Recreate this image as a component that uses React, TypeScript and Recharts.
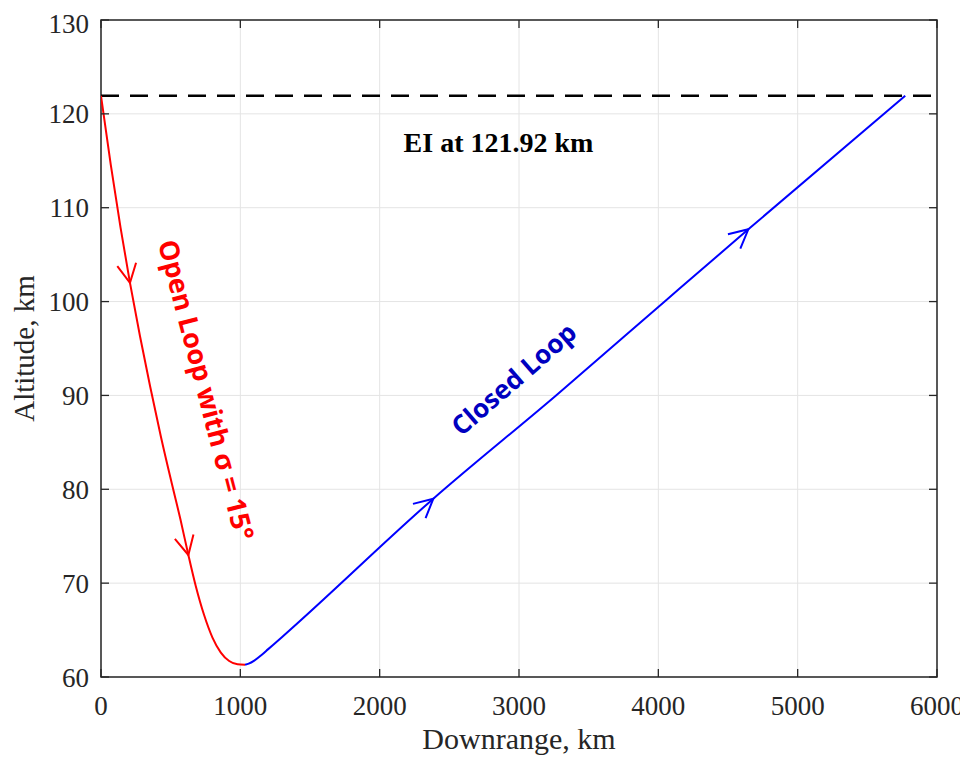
import React from 'react';
import {
  ComposedChart,
  Line,
  XAxis,
  YAxis,
  CartesianGrid,
  ReferenceLine,
  ReferenceDot,
  ReferenceArea,
} from 'recharts';

// ---------- data ----------
const xTicks = [0, 1000, 2000, 3000, 4000, 5000, 6000];
const yTicks = [60, 70, 80, 90, 100, 110, 120, 130];

// Open loop trajectory (downrange km, altitude km)
const openLoopX = [0, 70, 140, 208, 280, 352, 430, 510, 570, 627, 680, 740, 800, 860, 920, 980, 1034];
const openLoopY = [121.92, 114.6, 107.9, 102.0, 96.3, 91.0, 85.6, 80.5, 76.8, 73.0, 69.7, 66.6, 64.2, 62.6, 61.7, 61.35, 61.3];

// Closed loop trajectory
const closedLoopX = [1034, 1060, 1100, 1150, 1200, 1300, 2385, 3266, 4060, 4646, 5772];
const closedLoopY = [61.3, 61.42, 61.75, 62.32, 62.97, 64.27, 79.0, 90.0, 100.2, 107.7, 121.92];

// Direction arrows placed along each trajectory
const openArrowX = [208, 627];
const openArrowY = [102.0, 73.0];
const closedArrowX = [2385, 4646];
const closedArrowY = [79.0, 107.7];

const eiAltitude = 121.92;
const eiLabel = 'EI at 121.92 km';
const openLabel = 'Open Loop with σ = 15°';
const closedLabel = 'Closed Loop';

// ---------- layout ----------
const W = 960;
const H = 751;
const MARGIN = { top: 12, right: 31, left: 0, bottom: 0 };
const Y_AXIS_W = 93;
const X_AXIS_H = 82;
const X_DOMAIN: [number, number] = [0, 6000];
const Y_DOMAIN: [number, number] = [60, 130];
const PLOT_W = W - MARGIN.left - MARGIN.right - Y_AXIS_W;
const PLOT_H = H - MARGIN.top - MARGIN.bottom - X_AXIS_H;
const PX_PER_X = PLOT_W / (X_DOMAIN[1] - X_DOMAIN[0]);
const PX_PER_Y = PLOT_H / (Y_DOMAIN[1] - Y_DOMAIN[0]);

const AXIS = '#262626';
const SERIF = '"Liberation Serif", "Times New Roman", serif';
const SANS = '"Open Sans", "Noto Sans", sans-serif';

const toRows = (xs: number[], ys: number[]) => xs.map((x, i) => ({ x, y: ys[i] }));
const openLoopData = toRows(openLoopX, openLoopY);
const closedLoopData = toRows(closedLoopX, closedLoopY);

function seriesDir(xs: number[], ys: number[], x: number): [number, number] {
  let i = 0;
  while (i < xs.length - 2 && xs[i + 1] < x) i++;
  let dx = xs[i + 1] - xs[i];
  let dy = ys[i + 1] - ys[i];
  if (xs[i + 1] === x && i + 2 < xs.length) {
    dx += xs[i + 2] - xs[i + 1];
    dy += ys[i + 2] - ys[i + 1];
  }
  return [dx, dy];
}

const arrowShape = (xs: number[], ys: number[], x: number, color: string) => (p: any) => {
  const [dx, dy] = seriesDir(xs, ys, x);
  const theta = Math.atan2(-dy * PX_PER_Y, dx * PX_PER_X);
  const L = 21;
  const a = (27 * Math.PI) / 180;
  const x1 = p.cx - L * Math.cos(theta + a);
  const y1 = p.cy - L * Math.sin(theta + a);
  const x2 = p.cx - L * Math.cos(theta - a);
  const y2 = p.cy - L * Math.sin(theta - a);
  return (
    <path
      d={`M${x1},${y1} L${p.cx},${p.cy} L${x2},${y2}`}
      fill="none"
      stroke={color}
      strokeWidth={2}
      strokeLinejoin="miter"
    />
  );
};

const tickMark = (dx: number, dy: number) => (p: any) => (
  <line x1={p.cx} y1={p.cy} x2={p.cx + dx} y2={p.cy + dy} stroke={AXIS} strokeWidth={1.3} />
);

const textShape = (
  text: string,
  opts: { angle: number; color: string; font: string; size: number }
) => (p: any) => (
  <text
    x={p.cx}
    y={p.cy}
    textAnchor="middle"
    dominantBaseline="central"
    fill={opts.color}
    fontFamily={opts.font}
    fontSize={opts.size}
    fontWeight="bold"
    transform={`rotate(${opts.angle}, ${p.cx}, ${p.cy})`}
  >
    {text}
  </text>
);

const XLabel = (p: any) => {
  const vb = p.viewBox;
  return (
    <text
      x={vb.x + vb.width / 2}
      y={vb.y + vb.height - 10}
      textAnchor="middle"
      fill={AXIS}
      fontFamily={SERIF}
      fontSize={30}
    >
      Downrange, km
    </text>
  );
};

const YLabel = (p: any) => {
  const vb = p.viewBox;
  const x = vb.x + 26;
  const y = vb.y + vb.height / 2;
  return (
    <text
      x={x}
      y={y}
      textAnchor="middle"
      fill={AXIS}
      fontFamily={SERIF}
      fontSize={29}
      transform={`rotate(-90, ${x}, ${y})`}
    >
      Altitude, km
    </text>
  );
};

export default function App() {
  return (
    <div style={{ width: W, height: H }}>
      <ComposedChart width={W} height={H} margin={MARGIN}>
        <CartesianGrid stroke="#e4e4e4" strokeWidth={1} />
        <XAxis
          dataKey="x"
          type="number"
          domain={X_DOMAIN}
          ticks={xTicks}
          allowDataOverflow
          height={X_AXIS_H}
          axisLine={false}
          tickLine={false}
          tickSize={17}
          tickMargin={2}
          tick={{ fill: AXIS, fontFamily: SERIF, fontSize: 27 }}
          label={{ content: XLabel }}
        />
        <YAxis
          type="number"
          domain={Y_DOMAIN}
          ticks={yTicks}
          allowDataOverflow
          width={Y_AXIS_W}
          axisLine={false}
          tickLine={false}
          tickSize={10}
          tickMargin={2}
          tick={{ fill: AXIS, fontFamily: SERIF, fontSize: 27 }}
          label={{ content: YLabel }}
        />
        <ReferenceLine
          y={eiAltitude}
          stroke="#000000"
          strokeWidth={2.5}
          strokeDasharray="18 11"
        />
        <Line
          data={openLoopData}
          dataKey="y"
          type="monotone"
          stroke="#ff0000"
          strokeWidth={2}
          dot={false}
          activeDot={false}
          isAnimationActive={false}
        />
        <Line
          data={closedLoopData}
          dataKey="y"
          type="monotone"
          stroke="#0000ff"
          strokeWidth={2}
          dot={false}
          activeDot={false}
          isAnimationActive={false}
        />
        {openArrowX.map((x, i) => (
          <ReferenceDot
            key={`oa${i}`}
            x={x}
            y={openArrowY[i]}
            r={1}
            shape={arrowShape(openLoopX, openLoopY, x, '#ff0000')}
          />
        ))}
        {closedArrowX.map((x, i) => (
          <ReferenceDot
            key={`ca${i}`}
            x={x}
            y={closedArrowY[i]}
            r={1}
            shape={arrowShape(closedLoopX, closedLoopY, x, '#0000ff')}
          />
        ))}
        <ReferenceDot
          x={2853}
          y={117.0}
          r={1}
          shape={textShape(eiLabel, { angle: 0, color: '#000000', font: SERIF, size: 28 })}
        />
        <ReferenceDot
          x={761}
          y={90.6}
          r={1}
          shape={textShape(openLabel, { angle: 75.4, color: '#ff0000', font: SANS, size: 27 })}
        />
        <ReferenceDot
          x={2959}
          y={91.8}
          r={1}
          shape={textShape(closedLabel, { angle: -41, color: '#0000c0', font: SANS, size: 26 })}
        />
        <ReferenceArea
          x1={X_DOMAIN[0]}
          x2={X_DOMAIN[1]}
          y1={Y_DOMAIN[0]}
          y2={Y_DOMAIN[1]}
          fill="none"
          fillOpacity={0}
          stroke={AXIS}
          strokeWidth={1.5}
        />
        {xTicks.map((t) => (
          <ReferenceDot key={`xb${t}`} x={t} y={Y_DOMAIN[0]} r={1} shape={tickMark(0, -8)} />
        ))}
        {xTicks.map((t) => (
          <ReferenceDot key={`xt${t}`} x={t} y={Y_DOMAIN[1]} r={1} shape={tickMark(0, 8)} />
        ))}
        {yTicks.map((t) => (
          <ReferenceDot key={`yl${t}`} x={X_DOMAIN[0]} y={t} r={1} shape={tickMark(8, 0)} />
        ))}
        {yTicks.map((t) => (
          <ReferenceDot key={`yr${t}`} x={X_DOMAIN[1]} y={t} r={1} shape={tickMark(-8, 0)} />
        ))}
      </ComposedChart>
    </div>
  );
}
